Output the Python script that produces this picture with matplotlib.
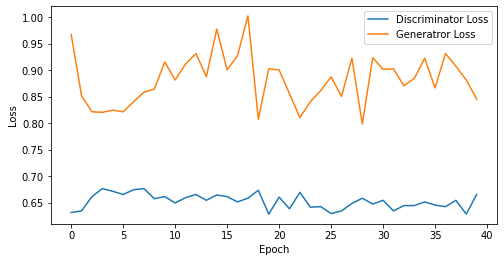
import matplotlib
matplotlib.use("Agg")
import matplotlib.pyplot as plt

epochs = list(range(40))
disc_loss = [0.632, 0.635, 0.662, 0.677, 0.672, 0.666, 0.675, 0.677, 0.658, 0.662,
             0.650, 0.660, 0.666, 0.655, 0.665, 0.662, 0.652, 0.659, 0.674, 0.629,
             0.661, 0.639, 0.670, 0.642, 0.643, 0.630, 0.635, 0.649, 0.659, 0.648,
             0.655, 0.635, 0.645, 0.645, 0.652, 0.646, 0.643, 0.655, 0.629, 0.666]
gen_loss = [0.968, 0.852, 0.822, 0.821, 0.825, 0.822, 0.841, 0.859, 0.865, 0.916,
            0.882, 0.912, 0.932, 0.888, 0.978, 0.901, 0.928, 1.003, 0.808, 0.903,
            0.901, 0.856, 0.811, 0.841, 0.862, 0.888, 0.851, 0.923, 0.799, 0.924,
            0.902, 0.903, 0.871, 0.885, 0.923, 0.867, 0.932, 0.908, 0.882, 0.846]

fig = plt.figure(figsize=(7.0, 3.64), dpi=72)
ax = fig.add_axes([0.101, 0.145, 0.885, 0.832])
ax.plot(epochs, disc_loss, label="Discriminator Loss")
ax.plot(epochs, gen_loss, label="Generatror Loss")
ax.set_xlabel("Epoch")
ax.set_ylabel("Loss")
ax.legend(loc="upper right")
fig.savefig("out.png", dpi=72)
